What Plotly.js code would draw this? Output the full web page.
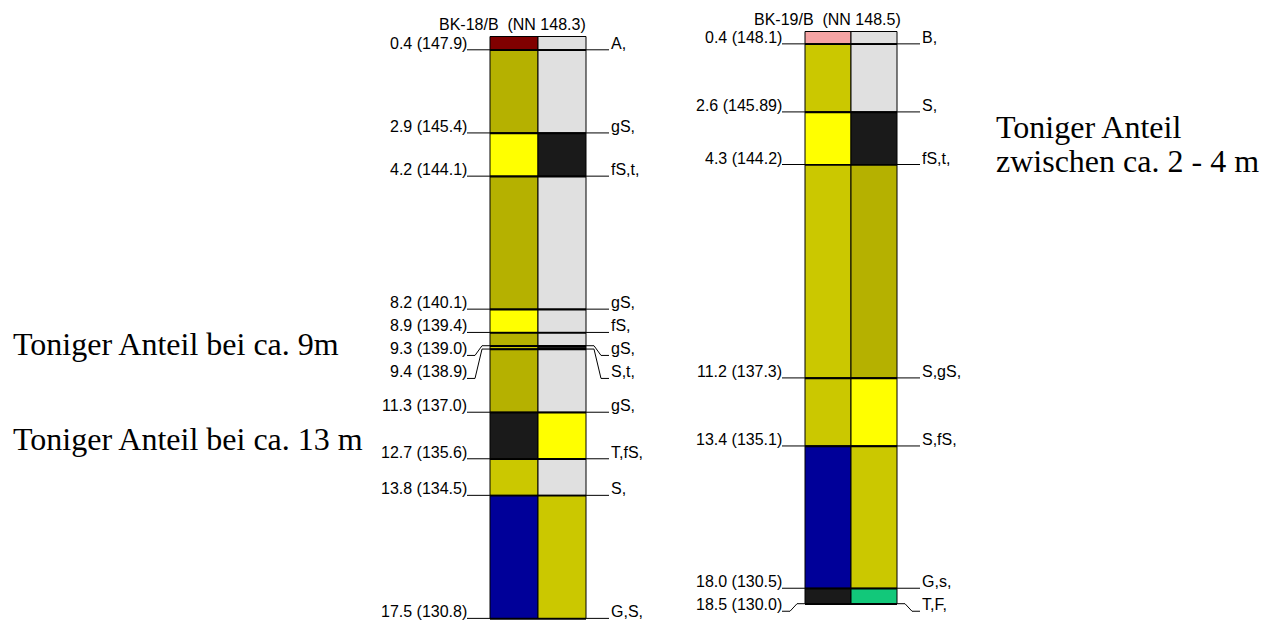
<!DOCTYPE html>
<html><head><meta charset="utf-8">
<script src="https://cdn.plot.ly/plotly-3.0.1.min.js"></script>
<style>html,body{margin:0;padding:0;background:#fff}#chart{width:1266px;height:620px}</style>
</head><body><div id="chart"></div>
<script>
// ---- data ----
const bk18Name = 'BK-18/B';
const bk18NNTop = '148.3';
const bk18Depth = [0.4, 2.9, 4.2, 8.2, 8.9, 9.3, 9.4, 11.3, 12.7, 13.8, 17.5];
const bk18NN = ['147.9', '145.4', '144.1', '140.1', '139.4', '139.0', '138.9', '137.0', '135.6', '134.5', '130.8'];
const bk18Code = ['A,', 'gS,', 'fS,t,', 'gS,', 'fS,', 'gS,', 'S,t,', 'gS,', 'T,fS,', 'S,', 'G,S,'];

const bk19Name = 'BK-19/B';
const bk19NNTop = '148.5';
const bk19Depth = [0.4, 2.6, 4.3, 11.2, 13.4, 18.0, 18.5];
const bk19NN = ['148.1', '145.89', '144.2', '137.3', '135.1', '130.5', '130.0'];
const bk19Code = ['B,', 'S,', 'fS,t,', 'S,gS,', 'S,fS,', 'G,s,', 'T,F,'];

const noteLeft = ['Toniger Anteil bei ca. 9m', 'Toniger Anteil bei ca. 13 m'];
const noteRight = ['Toniger Anteil', 'zwischen ca. 2 - 4 m'];

// ---- styles ----
const soilColor = {A:'#800000', B:'#f5a3a3', gS:'#b5b100', S:'#cbc800', s:'#cbc800',
  fS:'#ffff00', T:'#1a1a1a', t:'#1a1a1a', G:'#000099', F:'#12c87a'};
const EMPTY = '#e0e0e0';
const W = 1266, H = 620;
const sans = 'Liberation Sans, Arial, sans-serif';
const serif = 'Liberation Serif, Times New Roman, serif';

const geo18 = {left:490, w:48, top:36.5, k:33.25};
const geo19 = {left:805, w:46, top:31.5, k:30.93};

const traces = [];
const annotations = [];
const layoutAxes = {};

function borehole(g, depth, nn, code, name, nnTop, n) {
  const xa = n === 1 ? 'x' : 'x' + n, ya = n === 1 ? 'y' : 'y' + n;
  const X = px => (px - g.left) / g.w - 0.5;
  const Y = py => (py - g.top) / g.k;
  const P = d => g.top + d * g.k;
  const colR = g.left + 2 * g.w;
  const tops = [0].concat(depth.slice(0, -1));
  const thick = depth.map((d, i) => d - tops[i]);
  const tok = code.map(c => c.split(',').filter(s => s.length));
  const c0 = tok.map(t => soilColor[t[0]] || EMPTY);
  const c1 = tok.map(t => (t.length > 1 ? soilColor[t[1]] : null) || EMPTY);
  [c0, c1].forEach((cols, s) => {
    traces.push({type:'bar', xaxis:xa, yaxis:ya, x:depth.map(() => s), base:tops, y:thick,
      width:1, marker:{color:cols, line:{color:'#000', width:1}}, hoverinfo:'skip', showlegend:false});
  });
  // label positions (de-overlap)
  const lab = [];
  depth.forEach((d, i) => {
    let p = P(d);
    if (i > 0 && p < lab[i - 1] + 23) p = lab[i - 1] + 23;
    lab.push(p);
  });
  const lx = [], ly = [], cx = [], cy = [];
  depth.forEach((d, i) => {
    const dp = P(d), lp = lab[i];
    if (Math.abs(lp - dp) < 0.5) {
      lx.push(X(g.left - 23), X(colR + 23), null);
      ly.push(Y(dp), Y(dp), null);
    } else {
      lx.push(X(g.left - 23), X(g.left - 15), X(g.left - 8), X(colR + 8), X(colR + 15), X(colR + 23), null);
      ly.push(Y(lp), Y(lp), Y(dp), Y(dp), Y(lp), Y(lp), null);
    }
    cx.push(X(g.left), X(colR), null);
    cy.push(Y(dp + 0.5), Y(dp + 0.5), null);
    annotations.push({xref:xa, yref:ya, x:X(g.left - 21), y:Y(lp), xanchor:'right', yanchor:'bottom',
      yshift:-4, showarrow:false, text:d.toFixed(1) + ' (' + nn[i] + ')', font:{family:sans, size:16, color:'#000'}});
    annotations.push({xref:xa, yref:ya, x:X(colR + 23), y:Y(lp), xanchor:'left', yanchor:'bottom',
      yshift:-4, showarrow:false, text:code[i], font:{family:sans, size:16, color:'#000'}});
  });
  traces.push({type:'scatter', mode:'lines', xaxis:xa, yaxis:ya, x:lx, y:ly,
    line:{color:'#000', width:1}, hoverinfo:'skip', showlegend:false, connectgaps:false});
  traces.push({type:'scatter', mode:'lines', xaxis:xa, yaxis:ya, x:cx, y:cy,
    line:{color:'#000', width:1.5}, hoverinfo:'skip', showlegend:false, connectgaps:false});
  annotations.push({xref:xa, yref:ya, x:X(g.left + 22), y:Y(g.top - 5), xanchor:'center', yanchor:'bottom',
    yshift:-4, showarrow:false, text:name + '\u00a0\u00a0(NN ' + nnTop + ')', font:{family:sans, size:16, color:'#000'}});
  const xk = n === 1 ? 'xaxis' : 'xaxis' + n, yk = n === 1 ? 'yaxis' : 'yaxis' + n;
  layoutAxes[xk] = {domain:[0, 1], range:[X(0), X(W)], visible:false, fixedrange:true, anchor:ya};
  layoutAxes[yk] = {domain:[0, 1], range:[Y(H), Y(0)], visible:false, fixedrange:true, anchor:xa};
}

borehole(geo18, bk18Depth, bk18NN, bk18Code, bk18Name, bk18NNTop, 1);
borehole(geo19, bk19Depth, bk19NN, bk19Code, bk19Name, bk19NNTop, 2);

function note(text, xpx, basePx) {
  annotations.push({xref:'paper', yref:'paper', x:xpx / W, y:1 - (basePx + 8) / H, xanchor:'left', yanchor:'bottom',
    showarrow:false, text:text, font:{family:serif, size:32, color:'#000'}});
}
note(noteLeft[0], 11, 356);
note(noteLeft[1], 11, 451);
note(noteRight[0], 994, 139);
note(noteRight[1], 994, 173);

const layout = Object.assign({
  width:W, height:H, margin:{l:0, r:0, t:0, b:0, pad:0},
  paper_bgcolor:'#fff', plot_bgcolor:'rgba(0,0,0,0)', barmode:'overlay', showlegend:false,
  annotations:annotations
}, layoutAxes);

Plotly.newPlot('chart', traces, layout, {staticPlot:true, displayModeBar:false});
</script></body></html>
